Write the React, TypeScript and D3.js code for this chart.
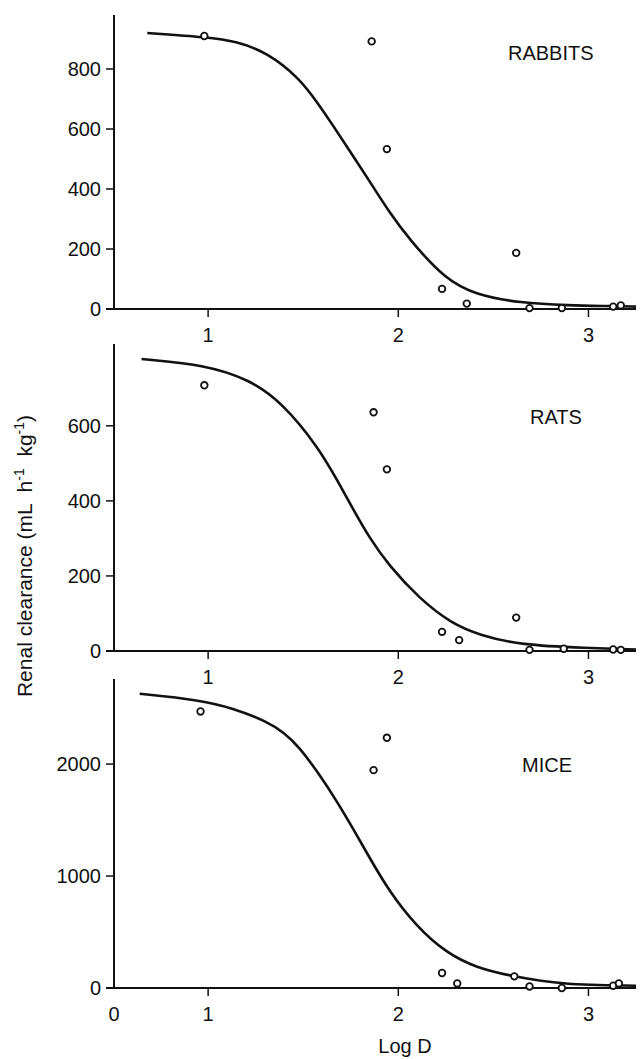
import React from 'react'
import * as d3 from 'd3'

// values
const xTicks = [1, 2, 3]

const rabbitPtsX = [0.98, 1.86, 1.94, 2.23, 2.36, 2.62, 2.69, 2.86, 3.13, 3.17]
const rabbitPtsY = [910, 892, 533, 67, 18, 187, 3, 3, 8, 12]
const rabbitFitX = [0.68, 1.0, 1.15, 1.31, 1.48, 1.58, 1.65, 1.75, 1.85, 1.95, 2.06, 2.25, 2.41, 2.64, 2.9, 3.1, 3.25]
const rabbitFitY = [920, 906, 892, 855, 770, 683, 618, 522, 425, 325, 230, 97, 47, 20, 12, 10, 8]

const ratPtsX = [0.98, 1.87, 1.94, 2.23, 2.32, 2.62, 2.69, 2.87, 3.13, 3.17]
const ratPtsY = [708, 636, 484, 51, 29, 89, 3, 6, 4, 3]
const ratFitX = [0.65, 0.98, 1.22, 1.39, 1.58, 1.69, 1.76, 1.85, 1.95, 2.11, 2.28, 2.43, 2.64, 2.99, 3.25]
const ratFitY = [778, 763, 723, 661, 543, 445, 380, 300, 228, 140, 73, 42, 16, 8, 4]

const micePtsX = [0.96, 1.87, 1.94, 2.23, 2.31, 2.61, 2.69, 2.86, 3.13, 3.16]
const micePtsY = [2470, 1946, 2235, 134, 41, 104, 14, 0, 20, 41]
const miceFitX = [0.64, 0.95, 1.13, 1.31, 1.4, 1.48, 1.58, 1.68, 1.76, 1.85, 1.95, 2.09, 2.25, 2.41, 2.6, 2.86, 3.25]
const miceFitY = [2628, 2574, 2500, 2380, 2280, 2150, 1920, 1660, 1430, 1160, 870, 560, 315, 181, 104, 30, 20]

const panels = [
  {name: 'RABBITS', ptsX: rabbitPtsX, ptsY: rabbitPtsY, fitX: rabbitFitX, fitY: rabbitFitY,
    yMax: 980, yTicks: [0, 200, 400, 600, 800], top: 15, bottom: 309, labelX: 508, labelY: 60},
  {name: 'RATS', ptsX: ratPtsX, ptsY: ratPtsY, fitX: ratFitX, fitY: ratFitY,
    yMax: 818, yTicks: [0, 200, 400, 600], top: 344, bottom: 651, labelX: 530, labelY: 424},
  {name: 'MICE', ptsX: micePtsX, ptsY: micePtsY, fitX: miceFitX, fitY: miceFitY,
    yMax: 2760, yTicks: [0, 1000, 2000], top: 679, bottom: 988, labelX: 522, labelY: 772},
]

const font = '"Liberation Sans", Arial, Helvetica, sans-serif'

export default function App() {
  const x = d3.scaleLinear().domain([0.505, 3.25]).range([114, 636])

  return (
    <svg width={640} height={1059} style={{position: 'absolute', left: 0, top: 0, background: '#fff'}}
         fontFamily={font} fontSize={20}>
      {panels.map((p, i) => {
        const y = d3.scaleLinear().domain([0, p.yMax]).range([p.bottom, p.top])
        const line = d3.line<number>()
          .x((d) => x(d))
          .y((_, j) => y(p.fitY[j]))
          .curve(d3.curveBasis)
        return (
          <g key={p.name}>
            {/* axes */}
            <line x1={x(0.505)} x2={x(0.505)} y1={p.top} y2={y(0)} stroke="#111" strokeWidth={2} />
            <line x1={x(0.505) - 8} x2={x(3.25)} y1={y(0)} y2={y(0)} stroke="#111" strokeWidth={2} />
            {p.yTicks.map((t) => (
              <g key={t}>
                <line x1={x(0.505) - 8} x2={x(0.505)} y1={y(t)} y2={y(t)} stroke="#111" strokeWidth={1.5} />
                <text x={x(0.505) - 13} y={y(t)} dy="0.36em" textAnchor="end" fill="#111">{t}</text>
              </g>
            ))}
            {xTicks.map((t) => (
              <g key={t}>
                <line x1={x(t)} x2={x(t)} y1={y(0)} y2={y(0) + 8} stroke="#111" strokeWidth={1.5} />
                <text x={x(t)} y={y(0) + 19} dy="0.72em" textAnchor="middle" fill="#111">{t}</text>
              </g>
            ))}
            {i === 2 && (
              <text x={x(0.505)} y={y(0) + 19} dy="0.72em" textAnchor="middle" fill="#111">0</text>
            )}
            {/* fitted curve */}
            <path d={line(p.fitX) || ''} fill="none" stroke="#111" strokeWidth={2.6} strokeLinejoin="round" />
            {/* observed points */}
            {p.ptsX.map((v, j) => (
              <circle key={j} cx={x(v)} cy={y(p.ptsY[j])} r={3.3} fill="#fff" stroke="#111" strokeWidth={1.8} />
            ))}
            <text x={p.labelX} y={p.labelY} fill="#111">{p.name}</text>
          </g>
        )
      })}
      <text x={405} y={1053} textAnchor="middle" fill="#111">Log D</text>
      <text transform="translate(32,556) rotate(-90)" textAnchor="middle" fill="#111" fontSize={21}
            style={{whiteSpace: 'pre'}}>
        {'Renal clearance (mL  h'}<tspan fontSize={14} dy={-8}>-1</tspan><tspan dy={8}>{'  kg'}</tspan><tspan fontSize={14} dy={-8}>-1</tspan><tspan dy={8}>)</tspan>
      </text>
    </svg>
  )
}
